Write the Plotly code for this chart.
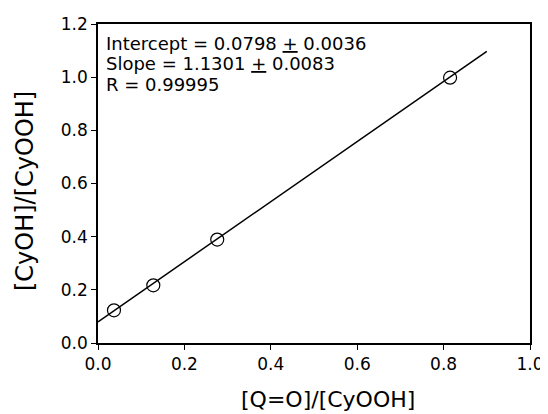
import plotly.graph_objects as go

# data
x_data = [0.037, 0.128, 0.276, 0.815]
y_data = [0.123, 0.217, 0.389, 0.998]
intercept = 0.0798
slope = 1.1301
fit_x = [0.0, 0.9]
fit_y = [intercept + slope * v for v in fit_x]
x_ticks = [0.0, 0.2, 0.4, 0.6, 0.8, 1.0]
y_ticks = [0.0, 0.2, 0.4, 0.6, 0.8, 1.0, 1.2]
fit_lines = ["Intercept = 0.0798 <u>+</u> 0.0036",
             "Slope = 1.1301 <u>+</u> 0.0083",
             "R = 0.99995"]
x_title = "[Q=O]/[CyOOH]"
y_title = "[CyOH]/[CyOOH]"

FONT = "DejaVu Sans, Verdana, sans-serif"

fig = go.Figure()
fig.add_trace(go.Scatter(x=fit_x, y=fit_y, mode="lines",
                         line=dict(color="black", width=1.5), showlegend=False))
fig.add_trace(go.Scatter(x=x_data, y=y_data, mode="markers",
                         marker=dict(symbol="circle-open", size=13, color="black",
                                     line=dict(width=1.2, color="black")),
                         showlegend=False))

for i, t in enumerate(fit_lines):
    fig.add_annotation(x=0, y=1, xref="x domain", yref="y domain", xanchor="left", yanchor="middle",
                       xshift=6, yshift=-(19 + 20.5 * i), text=t, showarrow=False, align="left",
                       font=dict(family=FONT, size=18, color="black"))

fig.add_annotation(x=0.5, y=0, xref="x domain", yref="y domain", xanchor="center", yanchor="middle",
                   xshift=14, yshift=-56, text=x_title, showarrow=False,
                   font=dict(family=FONT, size=22, color="black"))
fig.add_annotation(x=0, y=0.5, xref="x domain", yref="y domain", xanchor="center", yanchor="middle",
                   xshift=-73, yshift=-7.5, textangle=-90, text=y_title, showarrow=False,
                   font=dict(family=FONT, size=24, color="black"))

# page body has an 8px default margin; figure sized so plot area lands at the reference position
fig.update_layout(
    width=540, height=406,
    margin=dict(l=90, r=18, t=16, b=71),
    paper_bgcolor="white", plot_bgcolor="white",
    font=dict(family=FONT, size=17, color="black"),
)
fig.update_xaxes(range=[0, 1.0], tickvals=x_ticks, ticktext=[f"{v:.1f}" for v in x_ticks],
                 showgrid=False, zeroline=False, showline=True, linecolor="black", linewidth=1.5,
                 mirror=True, ticks="outside", ticklen=5, tickcolor="black", automargin=False,
                 ticklabeloverflow="allow", tickfont=dict(size=17))
fig.update_yaxes(range=[0, 1.2], tickvals=y_ticks, ticktext=[f"{v:.1f}" for v in y_ticks],
                 showgrid=False, zeroline=False, showline=True, linecolor="black", linewidth=1.5,
                 mirror=True, ticks="outside", ticklen=5, tickcolor="black", automargin=False,
                 tickfont=dict(size=17))

fig.write_html("out.html")
